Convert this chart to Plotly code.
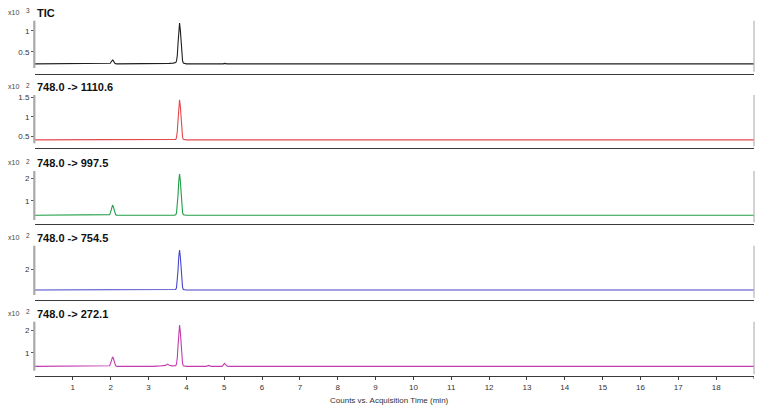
import plotly.graph_objects as go

# ---------------- data ----------------
titles = ["TIC", "748.0 -> 1110.6", "748.0 -> 997.5", "748.0 -> 754.5", "748.0 -> 272.1"]
exponents = ["3", "2", "2", "2", "2"]
colors = ["#1e1e1e", "#e5484d", "#1f9e45", "#4646c8", "#c23cae"]
x_tick_vals = list(range(1, 19))
x_tick_text = [str(v) for v in range(1, 19)]
x_title = "Counts vs. Acquisition Time (min)"

tic_t = [0.0, 1.0, 1.95, 1.99, 2.01, 2.03, 2.05, 2.07, 2.09, 2.11, 2.15, 2.4, 3.0, 3.4, 3.55, 3.65,
         3.70, 3.72, 3.74, 3.76, 3.78, 3.80, 3.82, 3.84, 3.86, 3.88, 3.90, 3.92, 3.95, 4.0,
         4.6, 4.65, 4.7, 4.97, 5.02, 5.07, 19.0]
tic_y = [0.21, 0.21, 0.211, 0.225, 0.255, 0.285, 0.30, 0.285, 0.255, 0.225, 0.211, 0.21, 0.21, 0.215, 0.222, 0.228,
         0.232, 0.243, 0.28, 0.41, 0.70, 1.02, 1.18, 1.02, 0.70, 0.42, 0.28, 0.23, 0.215, 0.21,
         0.21, 0.218, 0.21, 0.21, 0.222, 0.21, 0.21]

t1110_t = [0.0, 2.0, 2.06, 2.12, 3.70, 3.72, 3.74, 3.76, 3.78, 3.80, 3.82, 3.84, 3.86, 3.88, 3.90, 3.92, 3.95, 4.0, 19.0]
t1110_y = [0.41, 0.41, 0.418, 0.41, 0.412, 0.424, 0.474, 0.62, 0.92, 1.27, 1.43, 1.27, 0.92, 0.62, 0.474, 0.424, 0.412, 0.41, 0.41]

t997_t = [0.0, 1.93, 1.95, 1.97, 1.99, 2.01, 2.03, 2.05, 2.07, 2.09, 2.11, 2.13, 2.15, 2.17,
          3.68, 3.72, 3.74, 3.76, 3.78, 3.80, 3.82, 3.84, 3.86, 3.88, 3.90, 3.92, 3.95, 4.0,
          4.97, 5.02, 5.07, 19.0]
t997_y = [0.37, 0.37, 0.376, 0.398, 0.465, 0.595, 0.75, 0.82, 0.75, 0.595, 0.465, 0.398, 0.376, 0.37,
          0.372, 0.394, 0.484, 0.75, 1.275, 1.89, 2.18, 1.89, 1.275, 0.75, 0.484, 0.394, 0.376, 0.37,
          0.37, 0.385, 0.37, 0.37]

t754_t = [0.0, 3.68, 3.72, 3.74, 3.76, 3.78, 3.80, 3.82, 3.84, 3.86, 3.88, 3.90, 3.92, 3.95, 4.0,
          5.18, 5.24, 5.30, 19.0]
t754_y = [1.25, 1.25, 1.269, 1.341, 1.555, 1.975, 2.468, 2.70, 2.468, 1.975, 1.555, 1.341, 1.269, 1.255, 1.25,
          1.25, 1.262, 1.25, 1.25]

t272_t = [0.0, 1.93, 1.95, 1.97, 1.99, 2.01, 2.03, 2.05, 2.07, 2.09, 2.11, 2.13, 2.15, 2.17,
          3.10, 3.17, 3.22, 3.30, 3.35, 3.40, 3.45, 3.50, 3.55, 3.62, 3.68,
          3.72, 3.74, 3.76, 3.78, 3.80, 3.82, 3.84, 3.86, 3.88, 3.90, 3.92, 3.95, 4.0,
          4.52, 4.57, 4.60, 4.63, 4.68, 4.94, 4.98, 5.01, 5.04, 5.08, 5.14, 19.0]
t272_y = [0.40, 0.40, 0.405, 0.426, 0.488, 0.61, 0.753, 0.82, 0.753, 0.61, 0.488, 0.426, 0.405, 0.40,
          0.40, 0.42, 0.41, 0.415, 0.43, 0.42, 0.44, 0.50, 0.45, 0.42, 0.42,
          0.43, 0.515, 0.78, 1.31, 1.93, 2.22, 1.93, 1.31, 0.78, 0.515, 0.424, 0.405, 0.40,
          0.40, 0.41, 0.44, 0.41, 0.40, 0.40, 0.46, 0.53, 0.47, 0.41, 0.40, 0.40]

series_t = [tic_t, t1110_t, t997_t, t754_t, t272_t]
series_y = [tic_y, t1110_y, t997_y, t754_y, t272_y]
y_tick_vals = [[0.5, 1], [0.5, 1, 1.5], [1, 2], [2], [1, 2]]
y_tick_text = [["0.5", "1"], ["0.5", "1", "1.5"], ["1", "2"], ["2"], ["1", "2"]]

# ---------------- layout (pixel geometry, reference coordinates) ----------------
W, H = 764, 412
OFF = 8                      # page body margin offset
PL, PR = 35.0, 754.3         # plot left / right in reference pixels
ML = PL - OFF
MR = W - (PR - OFF)
PW = PR - PL
panel_top = [20.7, 95.0, 171.0, 245.7, 321.7]
panel_bot = [73.5, 148.0, 224.0, 299.5, 376.0]
line_low_px = [68.0, 143.3, 220.0, 295.0, 370.7]
y_ranges = [[-0.019, 1.238], [0.204, 1.552], [-0.013, 2.32], [0.906, 2.855], [-0.026, 2.366]]

def px_x(p):
    return (p - PL) / PW

def px_y(p):
    return (H - (p - OFF)) / H

fig = go.Figure()
annotations = []
shapes = []
FONT = "Liberation Sans, Arial"
for i in range(5):
    k = "" if i == 0 else str(i + 1)
    fig.add_trace(go.Scatter(
        x=series_t[i], y=series_y[i], mode="lines",
        line=dict(color=colors[i], width=1.1),
        xaxis="x" + k, yaxis="y" + k, showlegend=False, hoverinfo="skip"))
    last = (i == 4)
    xa = dict(
        domain=[0, 1], anchor="y" + k, range=[0, 19], showgrid=False, zeroline=False,
        showline=True, linecolor="#3a3a3a", linewidth=1,
        ticks="outside" if last else "", ticklen=3, tickcolor="#3a3a3a",
        tickvals=x_tick_vals if last else [], ticktext=x_tick_text if last else [],
        showticklabels=last, tickfont=dict(family=FONT, size=8, color="#333"),
        automargin=False)
    if i > 0:
        xa["matches"] = "x"
    fig.layout["xaxis" + k] = xa
    fig.layout["yaxis" + k] = dict(
        domain=[px_y(panel_bot[i]), px_y(panel_top[i])], anchor="x" + k,
        range=y_ranges[i], showgrid=False, zeroline=False, showline=False,
        ticks="outside", ticklen=3, tickcolor="#555", tickwidth=1,
        tickvals=y_tick_vals[i], ticktext=y_tick_text[i],
        tickfont=dict(family=FONT, size=8, color="#333"),
        automargin=False)
    # left gray axis line spanning the y extent
    shapes.append(dict(type="line", xref="paper", yref="paper", x0=px_x(34.3), x1=px_x(34.3),
                       y0=px_y(line_low_px[i]), y1=px_y(panel_top[i]),
                       line=dict(color="#a9a9a9", width=2.2)))
    # right gray edge line
    shapes.append(dict(type="line", xref="paper", yref="paper", x0=px_x(754.3), x1=px_x(754.3),
                       y0=px_y(panel_bot[i] - 1.8), y1=px_y(panel_top[i]),
                       line=dict(color="#b5b5b5", width=1.2)))
    # panel title
    annotations.append(dict(xref="paper", yref="paper", x=px_x(35.5), y=px_y(panel_top[i] - 7.6),
                            xanchor="left", yanchor="middle", showarrow=False, text=titles[i],
                            font=dict(family=FONT, size=11, color="#111", weight="bold")))
    # scale label "x10" with exponent
    annotations.append(dict(xref="paper", yref="paper", x=px_x(6), y=px_y(panel_top[i] - 8.3),
                            xanchor="left", yanchor="middle", showarrow=False, text="x10",
                            font=dict(family=FONT, size=7, color="#444")))
    annotations.append(dict(xref="paper", yref="paper", x=px_x(23.5), y=px_y(panel_top[i] - 9.8),
                            xanchor="left", yanchor="middle", showarrow=False, text=exponents[i],
                            font=dict(family=FONT, size=6.5, color="#444")))

# end tick at 19 on the bottom axis
shapes.append(dict(type="line", xref="x5", yref="paper", x0=19, x1=19,
                   y0=px_y(panel_bot[4]), y1=px_y(panel_bot[4] + 3),
                   line=dict(color="#3a3a3a", width=1)))

annotations.append(dict(xref="paper", yref="paper", x=px_x(390), y=px_y(400), xanchor="center", yanchor="middle",
                        showarrow=False, text=x_title,
                        font=dict(family=FONT, size=8, color="#333")))

fig.update_layout(width=W, height=H, margin=dict(l=ML, r=MR, t=0, b=0),
                  paper_bgcolor="white", plot_bgcolor="white",
                  annotations=annotations, shapes=shapes, template="none")

fig.write_html("out.html")
